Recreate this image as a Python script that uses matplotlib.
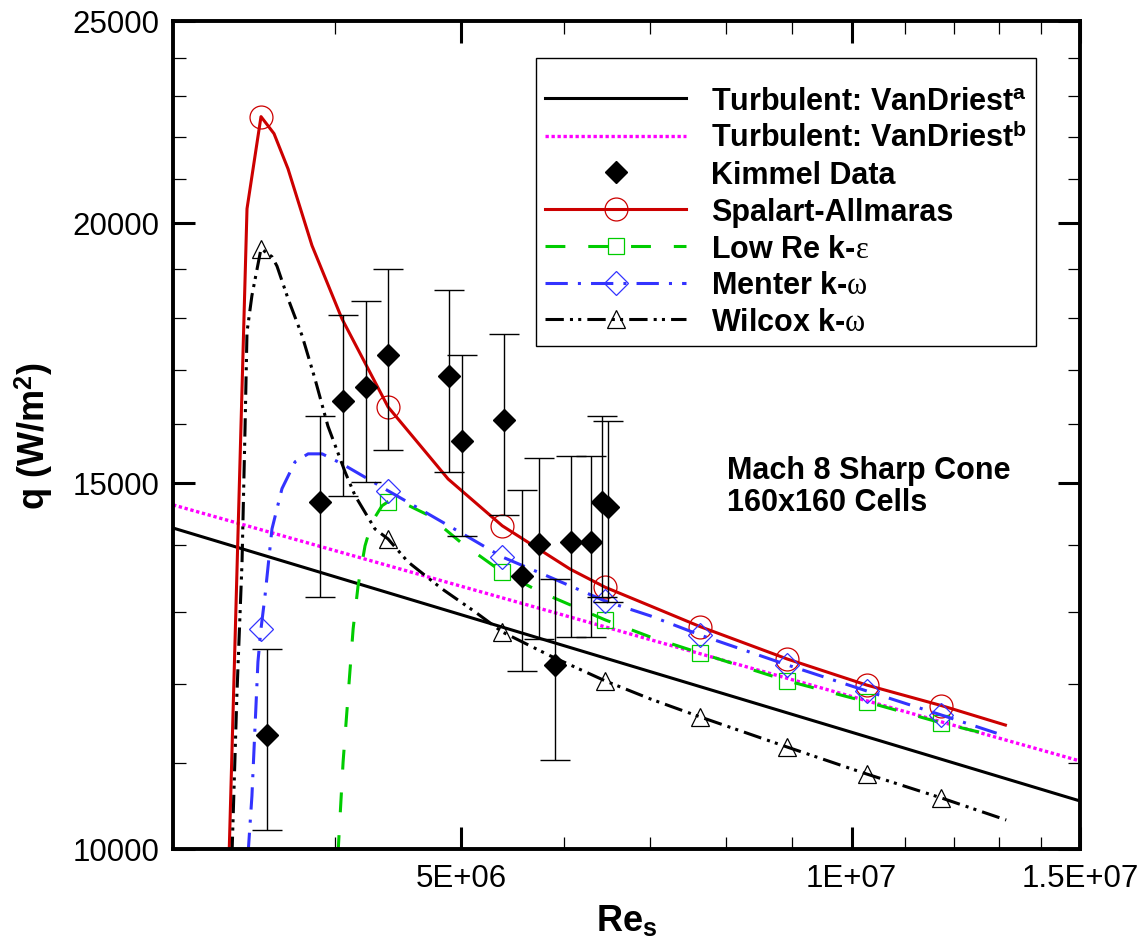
import numpy as np
import matplotlib.pyplot as plt
from matplotlib.ticker import FixedLocator, FixedFormatter, NullFormatter

plt.rcParams['font.family'] = ['Liberation Sans', 'DejaVu Sans']
plt.rcParams['mathtext.fontset'] = 'custom'
plt.rcParams['mathtext.rm'] = 'Liberation Sans'
plt.rcParams['mathtext.bf'] = 'Liberation Sans:bold'
plt.rcParams['mathtext.it'] = 'Liberation Serif'

# Turbulent correlations (straight lines in log-log)
res_vda = [3.0e6, 1.5e7]
q_vda = [14265, 10546]
res_vdb = [3.0e6, 1.5e7]
q_vdb = [14635, 11023]

# Kimmel experimental data (+/- 10 %)
res_kim = [3.545e6, 3.894e6, 4.057e6, 4.226e6, 4.394e6, 4.896e6, 5.010e6, 5.399e6,
           5.575e6, 5.745e6, 5.910e6, 6.081e6, 6.300e6, 6.425e6, 6.493e6]
q_kim = [11344, 14687, 16420, 16680, 17280, 16870, 15710, 16077,
         13527, 14017, 12259, 14049, 14049, 14687, 14605]
err_rel = 0.10

# Spalart-Allmaras
res_sa = [3.314e6, 3.421e6, 3.507e6, 3.589e6, 3.679e6, 3.839e6, 4.049e6, 4.394e6, 4.888e6,
          5.381e6, 6.070e6, 6.459e6, 6.999e6, 7.645e6, 8.923e6, 1.027e7, 1.173e7, 1.314e7]
q_sa = [9934, 20310, 22490, 22070, 21230, 19500, 17980, 16310, 15060,
        14300, 13630, 13360, 13086, 12790, 12340, 11990, 11720, 11470]
mk_sa = [2, 7, 9, 11, 13, 14, 15, 16]

# Low Re k-eps
res_lr = [4.020e6, 4.057e6, 4.093e6, 4.130e6, 4.166e6, 4.218e6, 4.271e6, 4.347e6, 4.394e6,
          4.450e6, 4.718e6, 4.993e6, 5.381e6, 5.756e6, 6.459e6, 6.999e6, 7.645e6, 8.923e6,
          1.027e7, 1.173e7, 1.291e7]
q_lr = [9934, 11012, 11847, 12760, 13377, 13987, 14363, 14620, 14687,
        14731, 14470, 14049, 13586, 13290, 12886, 12644, 12421, 12045,
        11769, 11497, 11331]
mk_lr = [8, 12, 14, 16, 17, 18, 19]

# Menter k-w
res_me = [3.427e6, 3.451e6, 3.488e6, 3.507e6, 3.532e6, 3.576e6, 3.640e6, 3.726e6, 3.813e6,
          3.909e6, 4.049e6, 4.241e6, 4.394e6, 4.718e6, 5.064e6, 5.381e6, 5.828e6, 6.459e6,
          6.999e6, 7.645e6, 8.923e6, 1.027e7, 1.173e7, 1.314e7]
q_me = [9934, 10604, 12300, 12760, 13232, 14250, 14900, 15350, 15485,
        15485, 15315, 15060, 14865, 14490, 14125, 13815, 13527, 13157,
        12943, 12672, 12259, 11912, 11598, 11331]
mk_me = [3, 12, 15, 17, 19, 20, 21, 22]

# Wilcox k-w
res_wi = [3.331e6, 3.360e6, 3.391e6, 3.409e6, 3.421e6, 3.451e6, 3.507e6, 3.576e6, 3.608e6,
          3.679e6, 3.772e6, 3.859e6, 3.949e6, 4.071e6, 4.144e6, 4.293e6, 4.394e6, 4.552e6,
          4.836e6, 5.128e6, 5.381e6, 5.860e6, 6.459e6, 6.999e6, 7.645e6, 8.923e6, 1.027e7,
          1.173e7, 1.316e7]
q_wi = [9934, 11847, 13740, 15920, 17720, 18450, 19430, 19260, 19060,
        18390, 17650, 16830, 15970, 15180, 14785, 14250, 14093, 13740,
        13335, 13000, 12715, 12383, 12045, 11806, 11574, 11194, 10866,
        10581, 10326]
mk_wi = [6, 16, 20, 22, 24, 25, 26, 27]

# ticks
xmajor = [5e6, 1e7, 1.5e7]
xlabels = ['5E+06', '1E+07', '1.5E+07']
xminor = [4e6, 6e6, 7e6, 8e6, 9e6, 1.1e7, 1.2e7, 1.3e7, 1.4e7]
ymajor = [10000, 15000, 20000, 25000]
ylabels = ['10000', '15000', '20000', '25000']
yminor = [11000, 12000, 13000, 14000, 16000, 17000, 18000, 19000,
          21000, 22000, 23000, 24000]

fig = plt.figure(figsize=(11.46, 9.45), dpi=100)
ax = fig.add_axes([0.15096, 0.10053, 0.79145, 0.87619])
ax.set_xscale('log')
ax.set_yscale('log')

lw = 2.2
ax.plot(res_vda, q_vda, color='black', lw=lw, label=r'Turbulent: VanDriest$^\mathbf{a}$')
ax.plot(res_vdb, q_vdb, color='#ff00ff', lw=2.4, linestyle=(0, (1, 0.8)),
        label=r'Turbulent: VanDriest$^\mathbf{b}$')

q_kim_arr = np.array(q_kim)
ax.errorbar(res_kim, q_kim, yerr=err_rel * q_kim_arr, fmt='none', ecolor='black',
            elinewidth=1.0, capsize=10.8, capthick=1.0, zorder=3)
ax.plot(res_kim, q_kim, 'D', color='black', ms=11, linestyle='none',
        label='Kimmel Data', zorder=4)

ax.plot(res_sa, q_sa, color='#cc0000', lw=lw, marker='o', ms=16.5, mfc='none',
        mec='#cc0000', mew=0.9, markevery=mk_sa, label='Spalart-Allmaras')
ax.plot(res_lr, q_lr, color='#00cc00', lw=lw, linestyle=(0, (6.5, 7.5)), marker='s',
        ms=11.5, mfc='none', mec='#00cc00', mew=0.9, markevery=mk_lr,
        label=r'Low Re k-$\varepsilon$')
ax.plot(res_me, q_me, color='#3333ff', lw=lw, linestyle=(0, (7.3, 3.3, 1, 3.3)), marker='D',
        ms=12, mfc='none', mec='#3333ff', mew=0.9, markevery=mk_me,
        label=r'Menter k-$\omega$')
ax.plot(res_wi, q_wi, color='black', lw=lw, linestyle=(0, (6, 2, 1, 1.7, 1, 2)), marker='^',
        ms=13.5, mfc='none', mec='black', mew=0.9, markevery=mk_wi,
        label=r'Wilcox k-$\omega$')

ax.set_xlim(3.0e6, 1.5e7)
ax.set_ylim(10000, 25000)

ax.xaxis.set_major_locator(FixedLocator(xmajor))
ax.xaxis.set_major_formatter(FixedFormatter(xlabels))
ax.xaxis.set_minor_locator(FixedLocator(xminor))
ax.xaxis.set_minor_formatter(NullFormatter())
ax.yaxis.set_major_locator(FixedLocator(ymajor))
ax.yaxis.set_major_formatter(FixedFormatter(ylabels))
ax.yaxis.set_minor_locator(FixedLocator(yminor))
ax.yaxis.set_minor_formatter(NullFormatter())

ax.tick_params(which='major', direction='in', length=16, width=2.2, labelsize=22.5,
               pad=10, top=True, right=True)
ax.tick_params(which='minor', direction='in', length=9, width=0.9, top=True, right=True)
for s in ax.spines.values():
    s.set_linewidth(2.8)

ax.set_xlabel(r'Re$_\mathbf{s}$', fontsize=26, fontweight='bold', labelpad=8)
ax.set_ylabel(r'q (W/m$^\mathbf{2}$)', fontsize=26, fontweight='bold', labelpad=12)

ax.text(0.611, 0.476, 'Mach 8 Sharp Cone\n160x160 Cells', transform=ax.transAxes,
        fontsize=22, fontweight='bold', va='top', ha='left', linespacing=1.08)

leg = ax.legend(loc='upper right', bbox_to_anchor=(0.9520, 0.955),
                prop={'weight': 'bold', 'size': 22}, handlelength=4.61, handletextpad=0.82,
                labelspacing=0.22, borderpad=0.3, borderaxespad=0, fancybox=False,
                edgecolor='black', framealpha=1, title=' ', title_fontsize=9)
leg.get_frame().set_linewidth(1.0)

fig.savefig('out.png', dpi=100)
